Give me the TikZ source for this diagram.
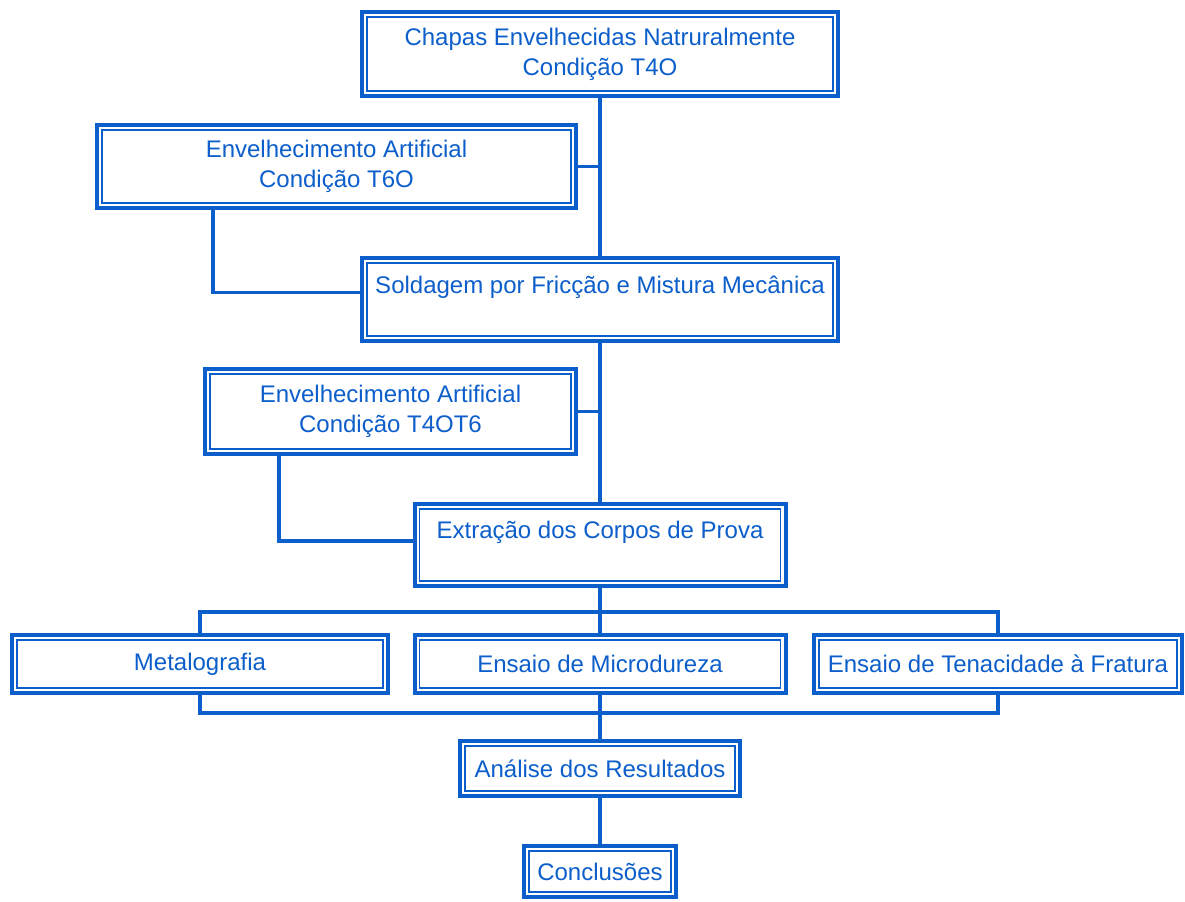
\documentclass[tikz,border=0pt]{standalone}
\usepackage{fontspec}
\setmainfont{Liberation Sans}
\usepackage{xcolor}
\definecolor{blu}{RGB}{12,94,202}

\begin{document}
\begin{tikzpicture}[x=0.5pt,y=-0.5pt]
        \tikzset{box/.style={draw=blu,line width=2pt,text=blu,inner sep=0pt,align=center,
                font=\fontsize{12}{15}\selectfont,
                path picture={\draw[blu,line width=0.75pt]
                    ([shift={(2.4pt,2.4pt)}]path picture bounding box.south west) rectangle
                    ([shift={(-2.4pt,-2.4pt)}]path picture bounding box.north east);}},
            link/.style={draw=blu,line width=1.65pt}}
        \useasboundingbox (0,0) rectangle (1185,901);
        \node[box,minimum width=238pt,minimum height=42pt] (chapas) at (600,54) {Chapas Envelhecidas Natruralmente\\Condição T4O};
        \node[box,minimum width=239.5pt,minimum height=41.5pt] (t6o) at (336.5,166.5) {Envelhecimento Artificial\\Condição T6O};
        \node[box,minimum width=238pt,minimum height=41.5pt] (solda) at (600,299.5) {Soldagem por Fricção e Mistura Mecânica\\ \mbox{}};
        \node[box,minimum width=185.5pt,minimum height=42.5pt] (t4ot6) at (390.5,411.5) {Envelhecimento Artificial\\Condição T4OT6};
        \node[box,minimum width=185.5pt,minimum height=41pt] (extra) at (600,545) {Extração dos Corpos de Prova\\ \mbox{}};
        \node[box,minimum width=188pt,minimum height=29pt] (metal) at (200,664) {Metalografia};
        \node[box,minimum width=185.5pt,minimum height=29pt] (micro) at (600,664) {Ensaio de Microdureza};
        \node[box,minimum width=184pt,minimum height=29pt] (tenac) at (998,664) {Ensaio de Tenacidade à Fratura};
        \node[box,minimum width=140pt,minimum height=27.5pt] (anal) at (600,768.5) {Análise dos Resultados};
        \node[box,minimum width=76pt,minimum height=25.5pt] (concl) at (600,871.5) {Conclusões};
        \coordinate (bt) at (600,612);
        \coordinate (bb) at (600,713);
        \draw[link] (chapas.south) -- (solda.north);
        \draw[link] (t6o.east) -- (t6o.east -| chapas.south);
        \draw[link] (t6o.south west) ++(118,0) |- ([yshift=3.5pt]solda.west);
        \draw[link] (solda.south) -- (extra.north);
        \draw[link] (t4ot6.east) -- (t4ot6.east -| solda.south);
        \draw[link] (t4ot6.south west) ++(76,0) |- ([yshift=2pt]extra.west);
        \draw[link] (extra.south) -- (micro.north);
        \draw[link] (metal.north) |- (bt) -| (tenac.north);
        \draw[link] (metal.south) |- (bb) -| (tenac.south);
        \draw[link] (micro.south) -- (anal.north);
        \draw[link] (anal.south) -- (concl.north);
    \end{tikzpicture}
\end{document}
